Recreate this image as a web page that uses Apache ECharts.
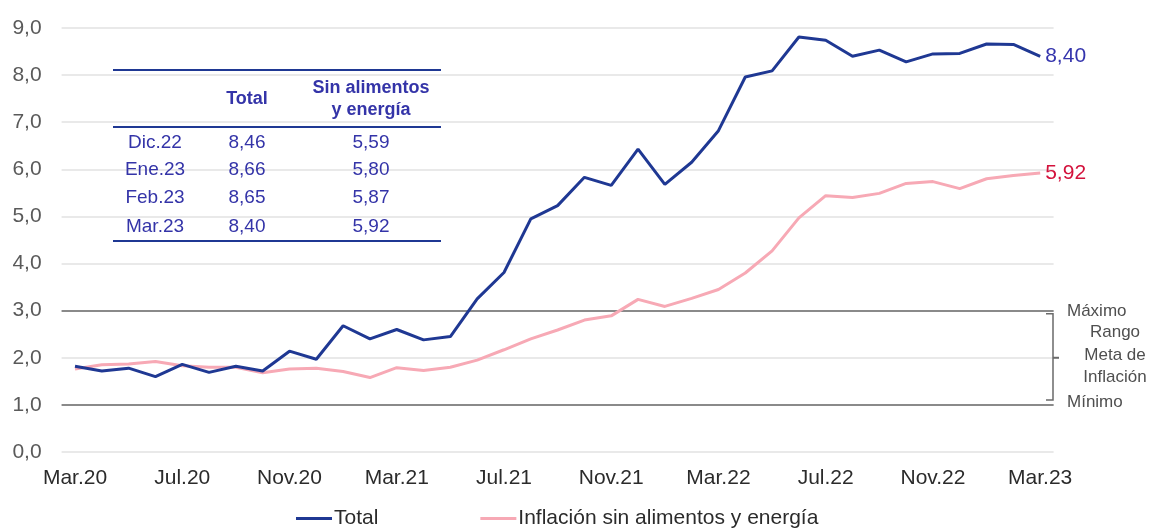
<!DOCTYPE html>
<html>
<head>
<meta charset="utf-8">
<style>
  html, body { margin: 0; padding: 0; background: #ffffff; }
  #chart { width: 1153px; height: 529px; }
</style>
<script src="https://cdn.jsdelivr.net/npm/echarts@6/dist/echarts.min.js"></script>
</head>
<body>
<div id="chart"></div>
<script>
// Monthly categories, March 2020 to March 2023
const months = [
  'Mar.20','Abr.20','May.20','Jun.20','Jul.20','Ago.20','Set.20','Oct.20','Nov.20','Dic.20',
  'Ene.21','Feb.21','Mar.21','Abr.21','May.21','Jun.21','Jul.21','Ago.21','Set.21','Oct.21','Nov.21','Dic.21',
  'Ene.22','Feb.22','Mar.22','Abr.22','May.22','Jun.22','Jul.22','Ago.22','Set.22','Oct.22','Nov.22','Dic.22',
  'Ene.23','Feb.23','Mar.23'
];

// Total inflation, % 12 months
const totalValues = [
  1.82, 1.72, 1.78, 1.60, 1.86, 1.69, 1.82, 1.72, 2.14, 1.97,
  2.68, 2.40, 2.60, 2.38, 2.45, 3.25, 3.81, 4.95, 5.23, 5.83, 5.66, 6.43,
  5.68, 6.15, 6.82, 7.96, 8.09, 8.81, 8.74, 8.40, 8.53, 8.28, 8.45, 8.46,
  8.66, 8.65, 8.40
];

// Inflation excluding food and energy, % 12 months
const coreValues = [
  1.76, 1.85, 1.87, 1.92, 1.83, 1.80, 1.80, 1.68, 1.76, 1.78,
  1.71, 1.58, 1.79, 1.73, 1.80, 1.95, 2.17, 2.40, 2.59, 2.80, 2.89, 3.24,
  3.09, 3.26, 3.45, 3.80, 4.27, 4.97, 5.44, 5.40, 5.49, 5.70, 5.74, 5.59,
  5.80, 5.87, 5.92
];

// Summary table rows
const tableMonths = ['Dic.22', 'Ene.23', 'Feb.23', 'Mar.23'];
const tableTotal = [8.46, 8.66, 8.65, 8.40];
const tableCore = [5.59, 5.80, 5.87, 5.92];

// Target range bounds
const targetMin = 1.0;
const targetMid = 2.0;
const targetMax = 3.0;

const seriesNames = ['Total', 'Inflación sin alimentos y energía'];
const FONT = '"Liberation Sans", Arial, sans-serif';
const BLUE = '#1f3893';
const PINK = '#f7a9b5';
const TABLE_TEXT = '#3434a8';

const comma = (v, d) => v.toFixed(d).replace('.', ',');

const chart = echarts.init(document.getElementById('chart'));

chart.setOption({
  animation: false,
  backgroundColor: '#ffffff',
  textStyle: { fontFamily: FONT },
  grid: { left: 61.6, right: 99.4, top: 28, bottom: 77 },
  xAxis: {
    type: 'category',
    data: months,
    boundaryGap: true,
    axisLine: { show: false },
    axisTick: { show: false },
    axisLabel: {
      interval: 3,
      margin: 16,
      fontSize: 21,
      color: '#2b2b2b',
      fontFamily: FONT
    },
    splitLine: { show: false }
  },
  yAxis: {
    type: 'value',
    min: 0,
    max: 9,
    interval: 1,
    axisLine: { show: false },
    axisTick: { show: false },
    axisLabel: {
      margin: 20,
      fontSize: 21,
      color: '#5a5a5a',
      fontFamily: FONT,
      formatter: v => comma(v, 1)
    },
    splitLine: { lineStyle: { color: '#e2e2e2', width: 1.5 } }
  },
  legend: {
    data: seriesNames,
    left: 296,
    top: 508,
    padding: 0,
    itemWidth: 36,
    itemHeight: 3,
    itemGap: 102,
    icon: 'rect',
    textStyle: { fontSize: 21, color: '#2b2b2b', fontFamily: FONT, padding: [0, 0, 0, -3] }
  },
  series: [
    {
      name: seriesNames[1],
      type: 'line',
      data: coreValues,
      symbol: 'none',
      z: 3,
      lineStyle: { color: PINK, width: 3 },
      itemStyle: { color: PINK },
      endLabel: {
        show: true,
        formatter: p => comma(p.value, 2),
        color: '#d3123c',
        fontSize: 21,
        fontFamily: FONT,
        distance: 5
      },
      markLine: {
        silent: true,
        symbol: 'none',
        label: { show: false },
        lineStyle: { color: '#8a8a8a', width: 2, type: 'solid' },
        data: [{ yAxis: targetMin }, { yAxis: targetMax }],
        z: 1
      }
    },
    {
      name: seriesNames[0],
      type: 'line',
      data: totalValues,
      symbol: 'none',
      z: 4,
      lineStyle: { color: BLUE, width: 3 },
      itemStyle: { color: BLUE },
      endLabel: {
        show: true,
        formatter: p => comma(p.value, 2),
        color: '#3434ad',
        fontSize: 21,
        fontFamily: FONT,
        distance: 5
      }
    }
  ]
});

// Summary table and target-range bracket
function buildGraphics() {
  const els = [];
  const tableLeft = 113, tableRight = 441;
  const colX = [155, 247, 371];
  const rowY = [143, 170, 198, 227];

  // horizontal rules
  [70, 127, 241].forEach(y => {
    els.push({
      type: 'line',
      shape: { x1: tableLeft, y1: y, x2: tableRight, y2: y },
      style: { stroke: BLUE, lineWidth: 2 },
      z: 10
    });
  });
  // header
  els.push({
    type: 'text', x: colX[1], y: 99,
    style: { text: 'Total', fill: TABLE_TEXT, font: 'bold 18px ' + FONT, align: 'center', verticalAlign: 'middle' },
    z: 10
  });
  els.push({
    type: 'text', x: colX[2], y: 99,
    style: { text: 'Sin alimentos\ny energía', fill: TABLE_TEXT, font: 'bold 18px ' + FONT, align: 'center', verticalAlign: 'middle', lineHeight: 22 },
    z: 10
  });
  // body rows
  tableMonths.forEach((m, i) => {
    const cells = [m, comma(tableTotal[i], 2), comma(tableCore[i], 2)];
    cells.forEach((c, j) => {
      els.push({
        type: 'text', x: colX[j], y: rowY[i],
        style: { text: c, fill: TABLE_TEXT, font: '19px ' + FONT, align: 'center', verticalAlign: 'middle' },
        z: 10
      });
    });
  });

  // bracket for the target range
  const yMax = chart.convertToPixel({ yAxisIndex: 0 }, targetMax) + 3;
  const yMin = chart.convertToPixel({ yAxisIndex: 0 }, targetMin) - 5;
  const yMid = chart.convertToPixel({ yAxisIndex: 0 }, targetMid);
  const bx = 1053;
  els.push({
    type: 'polyline',
    shape: { points: [[bx - 7, yMax], [bx, yMax], [bx, yMin], [bx - 7, yMin]] },
    style: { stroke: '#6a6a6a', lineWidth: 1.5, fill: null },
    z: 10
  });
  els.push({
    type: 'line',
    shape: { x1: bx, y1: yMid, x2: bx + 6, y2: yMid },
    style: { stroke: '#6a6a6a', lineWidth: 2 },
    z: 10
  });
  const noteStyle = { fill: '#4f4f4f', font: '17px ' + FONT, verticalAlign: 'middle' };
  els.push({ type: 'text', x: 1067, y: yMax - 2, style: Object.assign({ text: 'Máximo', align: 'left' }, noteStyle), z: 10 });
  els.push({ type: 'text', x: 1115, y: yMid - 25, style: Object.assign({ text: 'Rango', align: 'center' }, noteStyle), z: 10 });
  els.push({ type: 'text', x: 1115, y: yMid - 2, style: Object.assign({ text: 'Meta de', align: 'center' }, noteStyle), z: 10 });
  els.push({ type: 'text', x: 1115, y: yMid + 20, style: Object.assign({ text: 'Inflación', align: 'center' }, noteStyle), z: 10 });
  els.push({ type: 'text', x: 1067, y: yMin + 2, style: Object.assign({ text: 'Mínimo', align: 'left' }, noteStyle), z: 10 });
  return els;
}

chart.setOption({ graphic: buildGraphics() });
</script>
</body>
</html>
